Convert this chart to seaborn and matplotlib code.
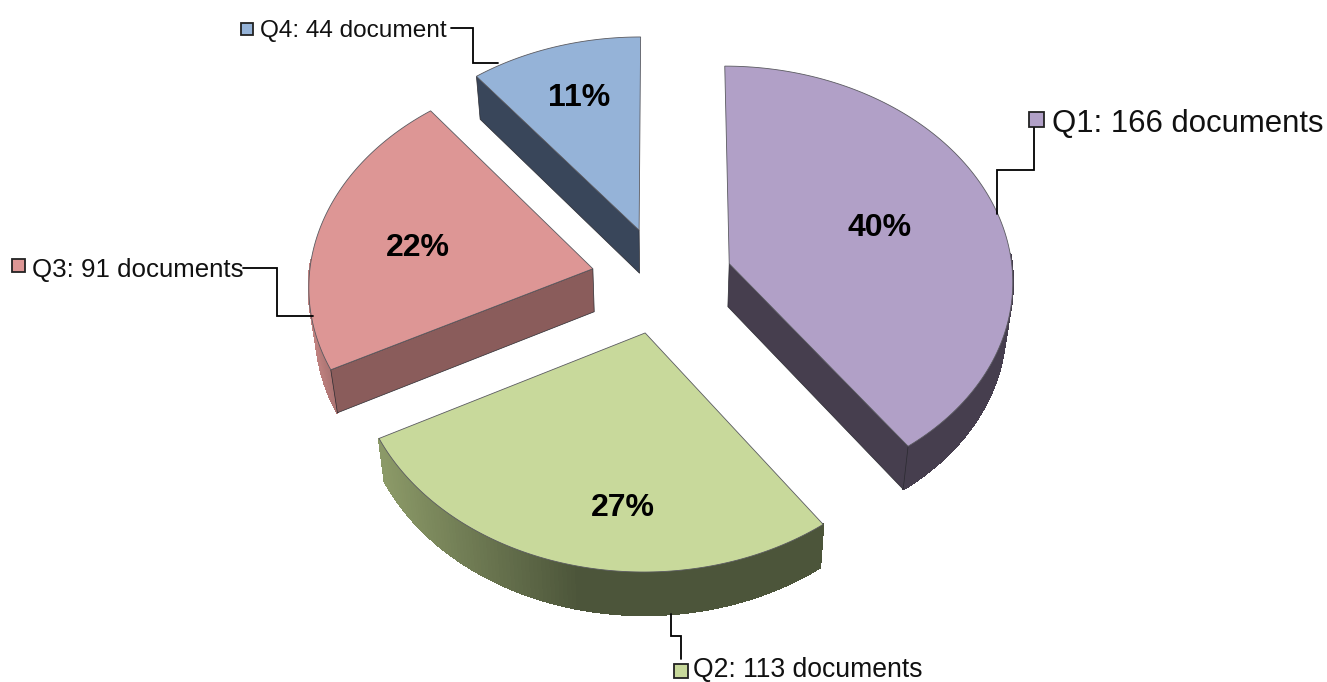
import numpy as np
import seaborn as sns
import matplotlib.pyplot as plt

# data
quarters = ['Q1', 'Q2', 'Q3', 'Q4']
documents = [166, 113, 91, 44]
percents = ['40%', '27%', '22%', '11%']
labels = ['Q1: 166 documents', 'Q2: 113 documents', 'Q3: 91 documents', 'Q4: 44 document']

# colours
top_colors = ['#b1a0c7', '#c8d99b', '#dd9695', '#95b3d8']
radial_colors = ['#463e4e', '#7d8a5c', '#8a5c5b', '#39465a']
arc_left = ['#463e4e', '#8c9a68', '#c08280', '#39465a']
arc_right = ['#463e4e', '#4c553a', '#8a5c5b', '#39465a']

# pie geometry, fitted to the picture (pixels)
cx, cy = 662, 280
rx, ry = 284, 214
persp = 0.0716
explode = 0.25
depth = 43
shrink = 0.98

# label layout (pixels)
pct_pos = [(880, 224), (623, 505), (418, 245), (579, 95)]
label_pos = [(1052, 121), (693, 667), (32, 267), (260, 28)]
label_size = [22.4, 19.1, 18.6, 17.6]
key_pos = [(1029, 112, 15), (674, 664, 14), (12, 259, 13), (241, 23, 12)]
leaders = [
    [(997, 214), (997, 170), (1034, 170), (1034, 128)],
    [(671, 614), (671, 636), (681, 636), (681, 659)],
    [(243, 268), (277, 268), (277, 316), (313, 316)],
    [(451, 28), (473, 28), (473, 63), (498, 63)],
]

sns.set_theme(style='white')
plt.rcParams['font.family'] = ['Liberation Sans', 'DejaVu Sans']

fig = plt.figure(figsize=(13.27, 6.82), dpi=100)
ax = fig.add_axes([0, 0, 1, 1])
ax.set_xlim(0, 1327)
ax.set_ylim(682, 0)
ax.axis('off')


def project(x, y):
    # perspective: far side of the pie (y > 0) is drawn smaller
    d = 1 + persp * y
    return cx + rx * x / d, cy - ry * y / d


def lower(sx, sy):
    # same point on the bottom face
    return cx + (sx - cx) * shrink, sy + depth


def blend(c1, c2, t):
    a = np.array(sns.color_palette([c1, c2]))
    return tuple(a[0] * (1 - t) + a[1] * t)


def draw_wedge(i, start, stop):
    mid = np.radians((start + stop) / 2)
    ox, oy = explode * np.sin(mid), explode * np.cos(mid)
    ang = np.radians(np.linspace(start, stop, 120))
    ax_x, ax_y = project(ox, oy)
    arc_x, arc_y = project(ox + np.sin(ang), oy + np.cos(ang))
    in_x, in_y = arc_x[60], arc_y[60]

    # outer wall, front half of the rim only: base polygon, then shaded strips
    front = np.cos(ang) < 0.05
    if front.sum() > 1:
        wx, wy = arc_x[front], arc_y[front]
        low_x, low_y = lower(wx, wy)
        ax.fill(np.r_[wx, low_x[::-1]], np.r_[wy, low_y[::-1]], color=arc_right[i], lw=0)
        for k in range(len(wx) - 1):
            t = np.clip((wx[k] - arc_x.min()) / (0.45 * (arc_x.max() - arc_x.min())), 0, 1)
            ax.fill([wx[k], wx[k + 1], low_x[k + 1], low_x[k]],
                    [wy[k], wy[k + 1], low_y[k + 1], low_y[k]],
                    color=blend(arc_left[i], arc_right[i], t), lw=1, antialiased=False)

    # radial faces, only where the outward normal looks down at the viewer
    for ex, ey in [(arc_x[0], arc_y[0]), (arc_x[-1], arc_y[-1])]:
        nx, ny = -(ey - ax_y), ex - ax_x
        if nx * (in_x - ax_x) + ny * (in_y - ax_y) > 0:
            nx, ny = -nx, -ny
        if ny / np.hypot(nx, ny) > 0.1:
            bx0, by0 = lower(ax_x, ax_y)
            bx1, by1 = lower(ex, ey)
            ax.fill([ax_x, ex, bx1, bx0], [ax_y, ey, by1, by0],
                    facecolor=radial_colors[i], edgecolor='#2a2a30', lw=0.5)

    ax.fill(np.r_[ax_x, arc_x], np.r_[ax_y, arc_y], facecolor=top_colors[i],
            edgecolor='#5a5a60', lw=0.6, joinstyle='miter')


angles = np.r_[0, np.cumsum(documents)] / sum(documents) * 360
for i in [3, 2, 0, 1]:
    draw_wedge(i, angles[i], angles[i + 1])

for i, q in enumerate(quarters):
    ax.text(*pct_pos[i], percents[i], fontsize=23, fontweight='bold', color='black',
            ha='center', va='center_baseline')
    ax.text(*label_pos[i], labels[i], fontsize=label_size[i], color='#111111',
            ha='left', va='center_baseline')
    kx, ky, ks = key_pos[i]
    ax.fill([kx, kx + ks, kx + ks, kx], [ky, ky, ky + ks, ky + ks],
            facecolor=top_colors[i], edgecolor='#222222', lw=1.3)
    lx, ly = zip(*leaders[i])
    ax.plot(lx, ly, color='black', lw=1.3, solid_joinstyle='miter')

fig.savefig('out.png', dpi=100)
